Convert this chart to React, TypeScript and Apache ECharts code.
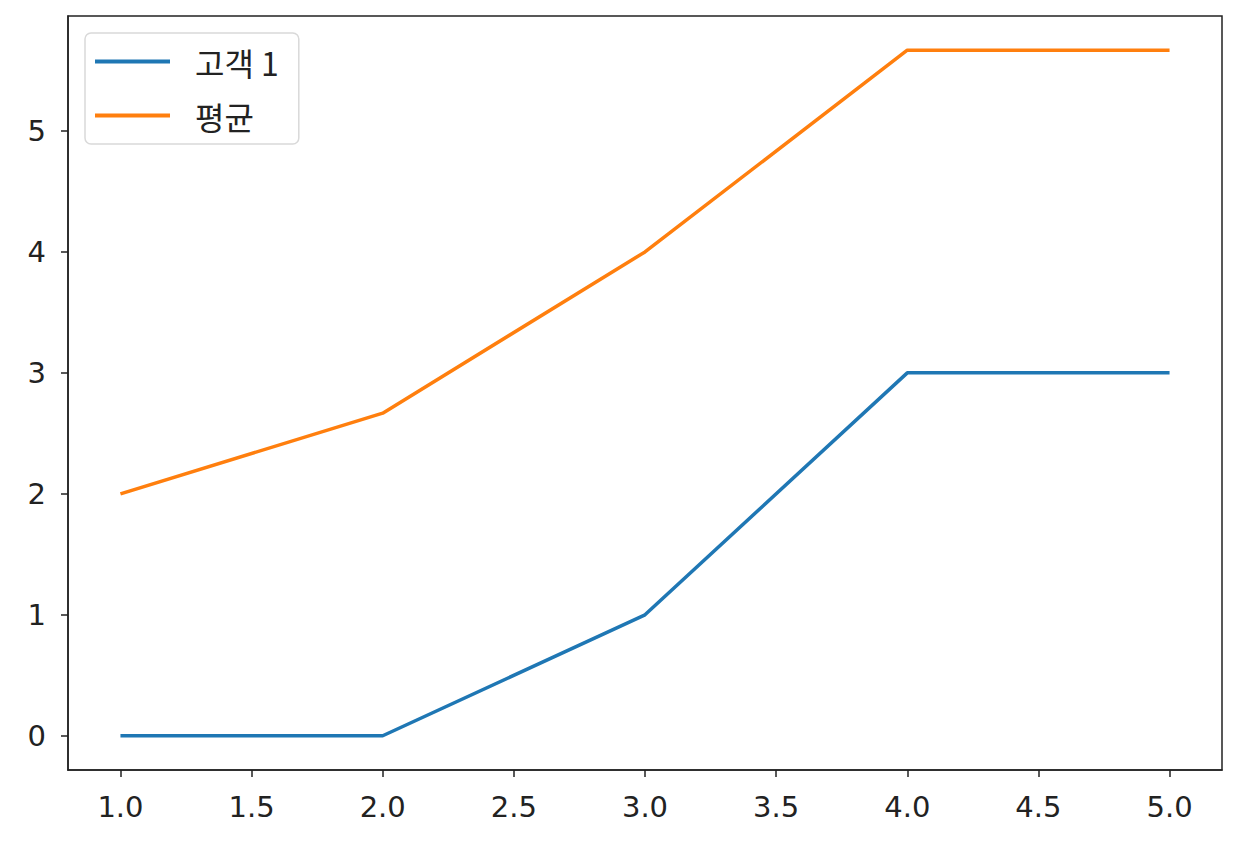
import { useEffect, useRef } from "react"
import * as echarts from "echarts"

const xValues = [1, 2, 3, 4, 5]
const customer1 = [0, 0, 1, 3, 3]
const average = [2, 2.667, 4, 5.667, 5.667]
const xTicks = [1, 1.5, 2, 2.5, 3, 3.5, 4, 4.5, 5]
const yTicks = [0, 1, 2, 3, 4, 5]
const seriesNames = ["고객 1", "평균"]

export default function App() {
  const chartRef = useRef<HTMLDivElement>(null)

  useEffect(() => {
    if (!chartRef.current) return
    const chart = echarts.init(chartRef.current, null, { renderer: "svg" })
    const font = "'DejaVu Sans', sans-serif"

    const option: echarts.EChartsOption = {
      animation: false,
      backgroundColor: "#fff",
      grid: {
        left: 68,
        right: 26,
        top: 16,
        bottom: 78,
        show: true,
        borderColor: "#222",
        borderWidth: 1.5,
        backgroundColor: "transparent",
      },
      legend: {
        orient: "vertical",
        left: 85,
        top: 33,
        padding: [11, 20, 11, 10],
        itemGap: 19,
        itemWidth: 75,
        itemHeight: 4,
        icon: "rect",
        backgroundColor: "#fff",
        borderColor: "#d9d9d9",
        borderWidth: 1.5,
        borderRadius: 6,
        textStyle: {
          fontFamily: "'Noto Sans CJK KR', sans-serif",
          fontSize: 32,
          lineHeight: 35,
          color: "#222",
          padding: [0, 0, 0, 20],
        },
        data: seriesNames,
      },
      xAxis: {
        type: "value",
        min: 0.8,
        max: 5.2,
        splitLine: { show: false },
        axisLine: { show: true, onZero: false, lineStyle: { color: "#222", width: 1.5 } },
        axisTick: {
          show: true,
          inside: false,
          length: 7,
          lineStyle: { color: "#222", width: 1.5 },
          customValues: xTicks,
        },
        axisLabel: {
          customValues: xTicks,
          formatter: (v: number) => v.toFixed(1),
          fontFamily: font,
          fontSize: 29,
          color: "#222",
          margin: 22,
        },
      },
      yAxis: {
        type: "value",
        min: -0.283,
        max: 5.95,
        splitLine: { show: false },
        axisLine: { show: true, onZero: false, lineStyle: { color: "#222", width: 1.5 } },
        axisTick: {
          show: true,
          inside: false,
          length: 7,
          lineStyle: { color: "#222", width: 1.5 },
          customValues: yTicks,
        },
        axisLabel: {
          customValues: yTicks,
          formatter: (v: number) => String(Math.round(v)),
          fontFamily: font,
          fontSize: 29,
          color: "#222",
          margin: 22,
        },
      },
      series: [
        {
          name: seriesNames[0],
          type: "line",
          data: xValues.map((x, i) => [x, customer1[i]]),
          symbol: "none",
          color: "#1f77b4",
          lineStyle: { width: 3.5, color: "#1f77b4" },
        },
        {
          name: seriesNames[1],
          type: "line",
          data: xValues.map((x, i) => [x, average[i]]),
          symbol: "none",
          color: "#ff7f0e",
          lineStyle: { width: 3.5, color: "#ff7f0e" },
        },
      ],
    }

    chart.setOption(option)
    return () => chart.dispose()
  }, [])

  return (
    <div
      ref={chartRef}
      style={{ position: "fixed", left: 0, top: 0, width: 1248, height: 848 }}
    />
  )
}
